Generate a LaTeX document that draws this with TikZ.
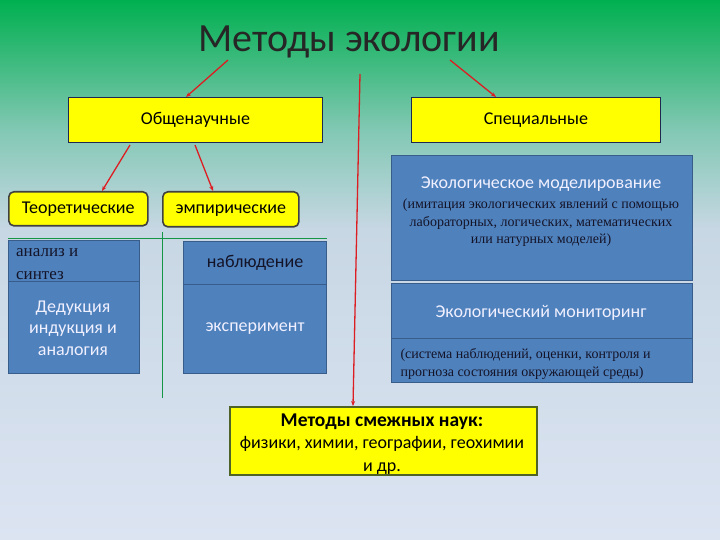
\documentclass[tikz,border=0pt]{standalone}
\usepackage{fontspec}
\setmainfont{Carlito}
\newfontfamily\serifru{Liberation Serif}
\usetikzlibrary{arrows.meta}
\definecolor{gA}{RGB}{0,176,80}
\definecolor{gB}{RGB}{60,186,125}
\definecolor{gC}{RGB}{130,200,180}
\definecolor{gD}{RGB}{200,215,228}
\definecolor{gE}{RGB}{220,228,242}
\definecolor{boxblue}{RGB}{79,129,189}
\definecolor{boxedge}{RGB}{56,93,138}
\definecolor{ylw}{RGB}{255,255,0}
\definecolor{navy}{RGB}{31,40,80}
\definecolor{redline}{RGB}{220,30,35}
\definecolor{olive}{RGB}{79,98,40}
\definecolor{greenline}{RGB}{20,150,70}
\definecolor{txtdark}{RGB}{20,20,40}
\tikzset{
  x=1pt, y=-1pt,
  ybox/.style={draw=navy, line width=0.8pt, fill=ylw, inner sep=0pt, anchor=north west},
  yround/.style={draw=black!75, line width=1.6pt, fill=ylw, rounded corners=5pt, inner sep=0pt, anchor=north west},
  bbox/.style={draw=boxedge, line width=1pt, fill=boxblue, inner sep=0pt, anchor=north west},
  redarrow/.style={draw=redline, line width=1.3pt, -{Stealth[length=5pt,width=4pt]}},
  gline/.style={draw=greenline, line width=0.7pt},
  lbl/.style={font=\fontsize{18}{21}\selectfont, text height=12pt, text depth=3.5pt, inner sep=0pt},
  wtxt/.style={text=white!94!blue, font=\fontsize{18}{21.5}\selectfont, align=center},
  stxt/.style={text=txtdark, font=\serifru\fontsize{14}{17.5}\selectfont, align=center},
}
\begin{document}
\begin{tikzpicture}
\useasboundingbox (0,0) rectangle (720,540);
% background
\shade[top color=gA, bottom color=gB] (0,0) rectangle (720,60);
\shade[top color=gB, bottom color=gC] (0,60) rectangle (720,130);
\shade[top color=gC, bottom color=gD] (0,130) rectangle (720,230);
\shade[top color=gD, bottom color=gE] (0,230) rectangle (720,540);

% title
\node[font=\fontsize{40}{44}\selectfont, text=black!85] (title) at (349,42) {Методы экологии};
\coordinate (t1) at (228,60);
\coordinate (t2) at (450,60);
\coordinate (t3) at (360,74);

% top yellow boxes
\node[ybox, minimum width=254pt, minimum height=45pt] (obsh) at (68,97) {};
\node[lbl] (obshT) at (obsh.center) {Общенаучные};
\node[ybox, minimum width=249pt, minimum height=45pt] (spec) at (411,97) {};
\node[lbl] (specT) at (spec.center) {Специальные};

% second-level yellow rounded boxes
\node[yround, minimum width=139pt, minimum height=34pt] (teor) at (8,191) {};
\node[lbl] (teorT) at (teor.center) {Теоретические};
\node[yround, minimum width=136pt, minimum height=35pt] (emp) at (162,191) {};
\node[lbl] (empT) at (emp.center) {эмпирические};

% green separators
\coordinate (gl1) at (8,238);
\coordinate (gl2) at (327,238);
\coordinate (gv1) at (162,232);
\coordinate (gv2) at (162,398);
\draw[gline] (gl1) -- (gl2);
\draw[gline] (gv1) -- (gv2);

% left blue box
\node[bbox, minimum width=131pt, minimum height=41pt] (an) at (8,240) {};
\node[bbox, minimum width=131pt, minimum height=92pt] (ded) at (8,281) {};
\node[anchor=west, text=txtdark, font=\serifru\fontsize{17}{22.5}\selectfont, align=left, inner sep=0pt] (anT) at (16,264) {анализ и\\синтез};
\node[wtxt] (dedT) at (73,328) {Дедукция\\индукция и\\аналогия};

% middle blue box
\node[bbox, minimum width=143pt, minimum height=43pt] (nab) at (183,241) {};
\node[bbox, minimum width=143pt, minimum height=89pt] (eks) at (183,284) {};
\node[text=txtdark, lbl] (nabT) at (255,263) {наблюдение};
\node[wtxt] (eksT) at (255,329) {эксперимент};

% right blue box
\node[bbox, minimum width=301pt, minimum height=125pt] (mod) at (391,155) {};
\node[wtxt] (modT) at (541,184) {Экологическое моделирование};
\node[stxt] (modS) at (541,223) {(имитация экологических явлений с помощью\\лабораторных, логических, математических\\или натурных моделей)};
\node[bbox, minimum width=301pt, minimum height=55pt] (mon) at (391,283) {};
\node[wtxt] (monT) at (541,313) {Экологический мониторинг};
\node[bbox, minimum width=301pt, minimum height=44pt] (monS) at (391,338) {};
\node[stxt, align=left, anchor=west] (monST) at (397,364) {(система наблюдений, оценки, контроля и\\прогноза состояния окружающей среды)};

% bottom yellow box
\node[draw=olive, line width=1.6pt, fill=ylw, anchor=north west, minimum width=307pt, minimum height=68pt, inner sep=0pt] (smezh) at (229,406) {};
\node[font=\fontsize{18}{22.5}\selectfont, align=center] (smezhT) at (382,444) {{\fontsize{19.5}{22.5}\selectfont\textbf{Методы смежных наук:}}\\физики, химии, географии, геохимии\\и др.};

% red connectors
\draw[redarrow] (t1) -- (obsh.north west -| 186,0);
\draw[redarrow] (t2) -- (spec.north west -| 496,0);
\draw[redarrow] (t3) -- (smezh.north west -| 353,0);
\coordinate (o1) at (130,145);
\coordinate (o2) at (195,145);
\draw[redarrow] (o1) -- (teor.north west -| 102,0);
\draw[redarrow] (o2) -- (emp.north west -| 213,0);
\end{tikzpicture}
\end{document}
